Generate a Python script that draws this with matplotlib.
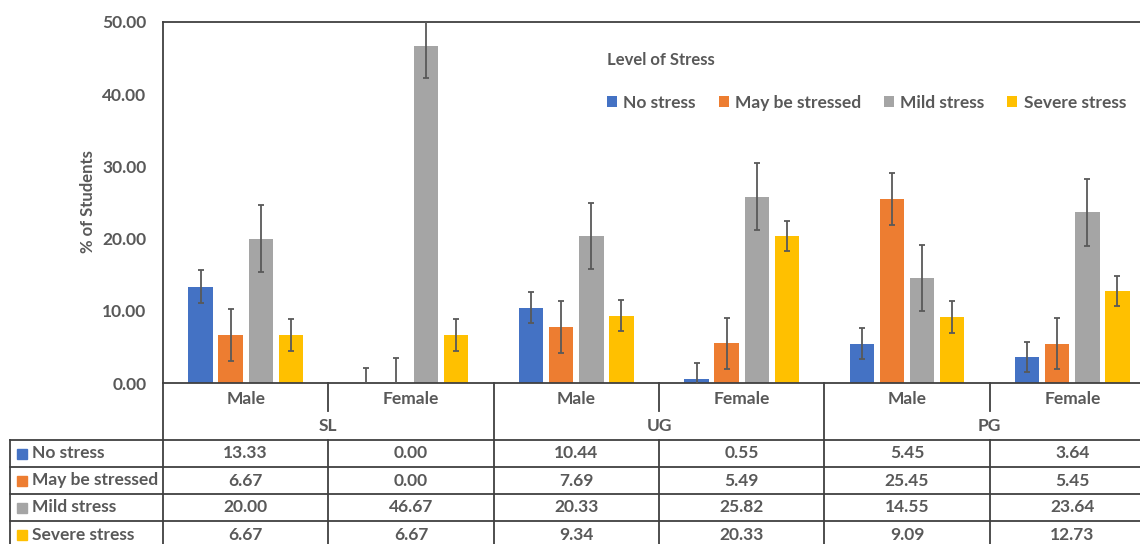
import matplotlib.pyplot as plt
import numpy as np

# stress level share by group / gender
levels = ['No stress', 'May be stressed', 'Mild stress', 'Severe stress']
groups = ['SL', 'UG', 'PG']
genders = ['Male', 'Female']
no_stress = [13.33, 0.00, 10.44, 0.55, 5.45, 3.64]
may_be = [6.67, 0.00, 7.69, 5.49, 25.45, 5.45]
mild = [20.00, 46.67, 20.33, 25.82, 14.55, 23.64]
severe = [6.67, 6.67, 9.34, 20.33, 9.09, 12.73]
err_no = [2.3, 2.1, 2.1, 2.2, 2.1, 2.1]
err_may = [3.6, 3.5, 3.6, 3.5, 3.6, 3.5]
err_mild = [4.6, 4.4, 4.6, 4.6, 4.6, 4.6]
err_severe = [2.2, 2.2, 2.1, 2.1, 2.2, 2.1]

colors = ['#4472C4', '#ED7D31', '#A5A5A5', '#FFC000']
txt = '#595959'
line = '#404040'
fs = 12.5
plt.rcParams['font.family'] = ['Lato', 'DejaVu Sans']
plt.rcParams['font.weight'] = 'bold'

W, H = 1140, 544
fig = plt.figure(figsize=(W / 100, H / 100), dpi=100)
L, R, T, B = 163, 1155, 22, 383
ax = fig.add_axes([L / W, 1 - B / H, (R - L) / W, (B - T) / H])

series = [no_stress, may_be, mild, severe]
errs = [err_no, err_may, err_mild, err_severe]
x = np.arange(6) + 0.5
bw = 0.147
step = 0.182
for i, (vals, e) in enumerate(zip(series, errs)):
    pos = x + (i - 1.5) * step
    ax.bar(pos, vals, width=bw, color=colors[i], label=levels[i], zorder=2)
    ax.errorbar(pos, vals, yerr=e, fmt='none', ecolor='#595959',
                elinewidth=1.3, capsize=2.5, capthick=1.3, zorder=3)

ax.set_xlim(0, 6)
ax.set_ylim(0, 50)
ax.set_yticks(np.arange(0, 51, 10))
ax.set_yticklabels(['%.2f' % v for v in np.arange(0, 51, 10)],
                   fontsize=fs, color=txt, fontweight='bold')
ax.tick_params(axis='y', length=0, pad=12)
ax.tick_params(axis='x', length=0, labelbottom=False)
for s in ax.spines.values():
    s.set_color(line)
    s.set_linewidth(1.3)
fig.text(88 / W, 1 - 202 / H, '% of Students', rotation=90, fontsize=fs - 0.5,
         color=txt, fontweight='bold', ha='center', va='center')

# legend
fig.text(607 / W, 1 - 60 / H, 'Level of Stress', fontsize=fs - 0.5, color=txt,
         fontweight='bold', va='center', ha='left')
leg = ax.legend(loc='center left', bbox_to_anchor=(600 / W, 1 - 103 / H),
                bbox_transform=fig.transFigure, ncol=4, frameon=False,
                handlelength=0.6, handleheight=0.6, handletextpad=0.35,
                columnspacing=1.3, fontsize=fs, borderaxespad=0)
for t in leg.get_texts():
    t.set_color(txt)
    t.set_fontweight('bold')

# category axis and data table below the plot
low = fig.add_axes([L / W, 0, (R - L) / W, 1 - B / H])
low.set_xlim(0, 6)
low.set_ylim(H, B)
low.axis('off')
px = lambda p: (p - L) / ((R - L) / 6)
kw = dict(color=line, lw=1.3, clip_on=False)

for k in range(4):
    low.plot([2 * k, 2 * k], [B, 440], **kw)
for k in range(3):
    low.plot([2 * k + 1, 2 * k + 1], [B, 411], **kw)
for i, g in enumerate(groups):
    low.text(2 * i + 1, 426, g, ha='center', va='center', fontsize=fs,
             color=txt, fontweight='bold')
    for j, s in enumerate(genders):
        low.text(2 * i + j + 0.5, 399, s, ha='center', va='center',
                 fontsize=fs, color=txt, fontweight='bold')

rows = [440, 467, 494, 521]
for y in rows:
    low.plot([px(10), 6], [y, y], **kw)
low.plot([px(10), px(10)], [440, H], **kw)
for k in range(7):
    low.plot([k, k], [440, H], **kw)

for r, (name, vals) in enumerate(zip(levels, series)):
    yc = rows[r] + 13.5
    low.add_patch(plt.Rectangle((px(17), yc - 5), px(27) - px(17), 10,
                                color=colors[r], clip_on=False))
    low.text(px(32), yc, name, ha='left', va='center', fontsize=fs,
             color=txt, fontweight='bold')
    for c, v in enumerate(vals):
        low.text(c + 0.5, yc, '%.2f' % v, ha='center', va='center',
                 fontsize=fs, color=txt, fontweight='bold')

fig.savefig('out.png', dpi=100)
